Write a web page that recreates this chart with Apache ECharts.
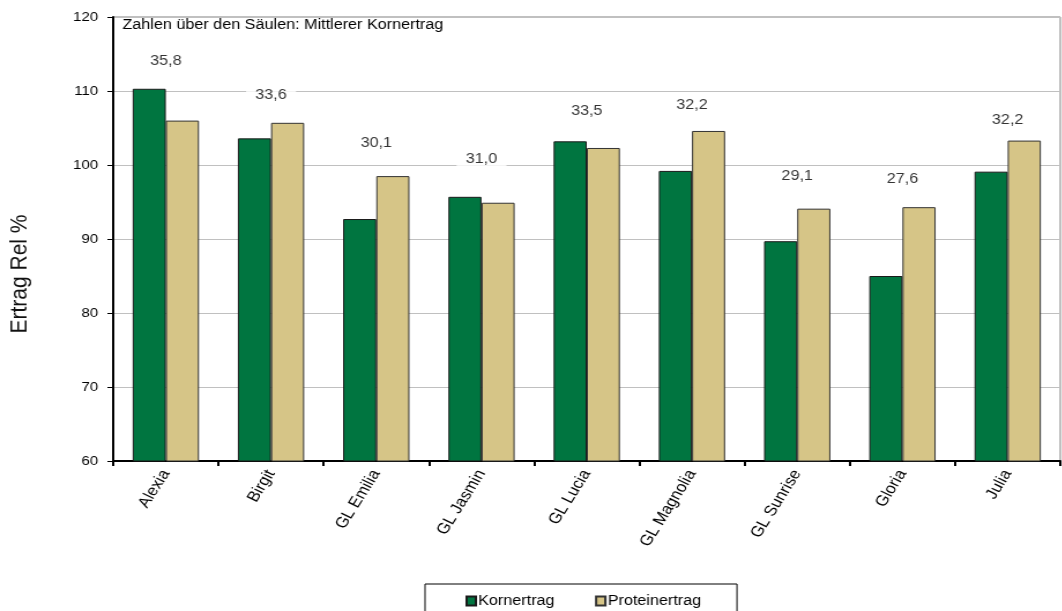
<!DOCTYPE html>
<html><head><meta charset="utf-8">
<script src="https://cdn.jsdelivr.net/npm/echarts@6/dist/echarts.min.js"></script>
<style>html,body{margin:0;padding:0;background:#fff;overflow:hidden}
#c{width:920px;height:611px;transform:scaleX(1.155);transform-origin:0 0}</style>
</head><body><div id="c"></div>
<script>
const categories = ['Alexia','Birgit','GL Emilia','GL Jasmin','GL Lucia','GL Magnolia','GL Sunrise','Gloria','Julia'];
const kornertrag = [110.3, 103.6, 92.7, 95.7, 103.2, 99.2, 89.7, 85.0, 99.1];
const proteinertrag = [106.0, 105.7, 98.5, 94.9, 102.3, 104.6, 94.1, 94.3, 103.3];
const mittlererKornertrag = [35.8, 33.6, 30.1, 31.0, 33.5, 32.2, 29.1, 27.6, 32.2];
const labelHoehe = [114.0, 109.4, 103.0, 100.8, 107.3, 108.1, 98.5, 98.1, 106.1];
const yTicks = [60, 70, 80, 90, 100, 110, 120];

const FONT = '"Liberation Sans", Arial, sans-serif';
const chart = echarts.init(document.getElementById('c'));
chart.setOption({
  animation: false,
  textStyle: {fontFamily: FONT},
  grid: {left: 98, right: 2, top: 17, bottom: 150, show: true, borderColor: '#808080', borderWidth: 1, backgroundColor: 'transparent'},
  legend: {
    data: ['Kornertrag', 'Proteinertrag'],
    left: 368, top: 584,
    borderColor: '#000', borderWidth: 1,
    padding: [10, 31, 12, 35],
    itemWidth: 8, itemHeight: 9, itemGap: 35,
    icon: 'rect',
    textStyle: {fontSize: 14, color: '#000', fontFamily: FONT, padding: [0, 0, 0, -3]}
  },
  graphic: [
    {type: 'text', left: 106, top: 18,
     style: {text: 'Zahlen über den Säulen: Mittlerer Kornertrag', fontSize: 14, fill: '#000', fontFamily: FONT}},
    {type: 'text', x: 17.5, y: 274, rotation: Math.PI / 2,
     style: {text: 'Ertrag Rel %', fontSize: 21, fill: '#111', fontFamily: FONT, align: 'center', verticalAlign: 'middle'}}
  ],
  xAxis: {
    type: 'category', data: categories,
    axisLine: {lineStyle: {color: '#000', width: 2}},
    axisTick: {show: true, length: 5, lineStyle: {color: '#000', width: 2}},
    axisLabel: {rotate: 61, fontSize: 15, color: '#000', margin: 10, fontFamily: FONT}
  },
  yAxis: {
    type: 'value', min: yTicks[0], max: yTicks[yTicks.length-1], interval: 10,
    axisLine: {show: true, lineStyle: {color: '#000', width: 2}},
    axisTick: {show: true, length: 5, lineStyle: {color: '#000', width: 1}},
    axisLabel: {fontSize: 13, color: '#000', margin: 13, fontFamily: FONT},
    splitLine: {lineStyle: {color: '#c0c0c0', width: 1}}
  },
  series: [
    {name: 'Kornertrag', type: 'bar', data: kornertrag, barGap: '0%', barCategoryGap: '37%',
     itemStyle: {color: '#007540', borderColor: '#1a1a1a', borderWidth: 1}},
    {name: 'Proteinertrag', type: 'bar', data: proteinertrag,
     itemStyle: {color: '#d6c587', borderColor: '#333', borderWidth: 1}},
    {name: 'Label', type: 'scatter', data: labelHoehe, symbolSize: 0, z: 5, silent: true,
     label: {show: true, position: 'inside', fontSize: 14, color: '#000', fontFamily: FONT,
       backgroundColor: '#fff', padding: [3, 8],
       formatter: p => mittlererKornertrag[p.dataIndex].toFixed(1).replace('.', ',')}}
  ]
});
</script></body></html>
